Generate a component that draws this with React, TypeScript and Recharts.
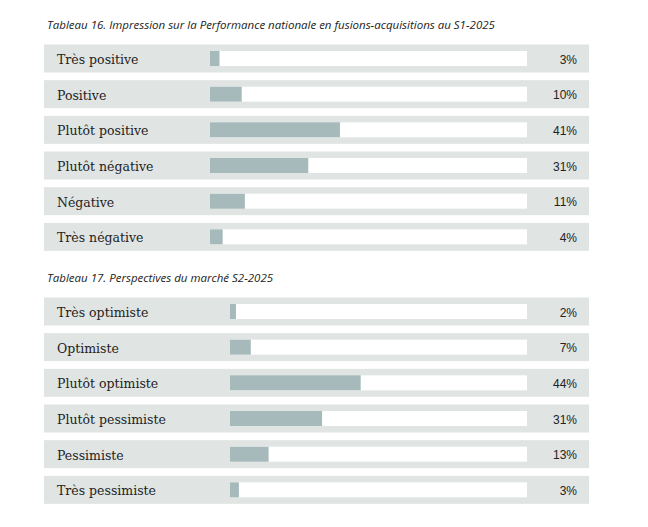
import React from "react";
import { BarChart, Bar, XAxis, YAxis, LabelList } from "recharts";

// Tableau 16
const impressionLabels = [
  "Très positive",
  "Positive",
  "Plutôt positive",
  "Plutôt négative",
  "Négative",
  "Très négative",
];
const impressionValues = [3, 10, 41, 31, 11, 4];

// Tableau 17
const perspectiveLabels = [
  "Très optimiste",
  "Optimiste",
  "Plutôt optimiste",
  "Plutôt pessimiste",
  "Pessimiste",
  "Très pessimiste",
];
const perspectiveValues = [2, 7, 44, 31, 13, 3];

const TITLE_16 =
  "Tableau 16. Impression sur la Performance nationale en fusions-acquisitions au S1-2025";
const TITLE_17 = "Tableau 17. Perspectives du marché S2-2025";

const BAND_COLOR = "#e0e4e3";
const BAR_COLOR = "#a6babb";
const TRACK_COLOR = "#ffffff";
const BAND_LEFT = 44;
const BAND_RIGHT = 589;
const BAND_HEIGHT = 28;
const LABEL_X = 57;
const VALUE_X = 577;

const LABEL_FONT = "'DejaVu Serif', serif";
const VALUE_FONT = "'Liberation Sans', Arial, sans-serif";
const TITLE_FONT = "'Open Sans', sans-serif";

const toRows = (labels: string[], values: number[]) =>
  labels.map((label, i) => ({ label, value: values[i] }));

// band + white track, drawn under each bar
const BandBackground = (props: any) => {
  const { x, y, width, height } = props;
  const cy = y + height / 2;
  return (
    <g>
      <rect
        x={BAND_LEFT}
        y={cy - BAND_HEIGHT / 2}
        width={BAND_RIGHT - BAND_LEFT}
        height={BAND_HEIGHT}
        fill={BAND_COLOR}
      />
      <rect x={x} y={y} width={width} height={height} fill={TRACK_COLOR} />
    </g>
  );
};

const CategoryLabel = (props: any) => {
  const { y, height, value } = props;
  return (
    <text
      x={LABEL_X}
      y={y + height / 2 + 5.5}
      fontFamily={LABEL_FONT}
      fontSize={12.5}
      fill="#222"
    >
      {value}
    </text>
  );
};

const PercentLabel = (props: any) => {
  const { y, height, value } = props;
  return (
    <text
      x={VALUE_X}
      y={y + height / 2 + 5}
      textAnchor="end"
      fontFamily={VALUE_FONT}
      fontSize={12}
      fill="#222"
    >
      {value}%
    </text>
  );
};

const Table = ({
  rows,
  height,
  marginTop,
  marginLeft,
}: {
  rows: { label: string; value: number }[];
  height: number;
  marginTop: number;
  marginLeft: number;
}) => (
  <BarChart
    width={648}
    height={height}
    data={rows}
    layout="vertical"
    margin={{ top: marginTop, right: 648 - 527, left: marginLeft, bottom: 0 }}
  >
    <XAxis type="number" domain={[0, 100]} hide />
    <YAxis type="category" dataKey="label" hide />
    <Bar
      dataKey="value"
      fill={BAR_COLOR}
      barSize={15}
      background={<BandBackground />}
      isAnimationActive={false}
    >
      <LabelList dataKey="label" content={<CategoryLabel />} />
      <LabelList dataKey="value" content={<PercentLabel />} />
    </Bar>
  </BarChart>
);

export default function App() {
  return (
    <div
      style={{
        position: "absolute",
        left: 0,
        top: 0,
        width: 648,
        height: 527,
        background: "#fff",
      }}
    >
      <svg width={648} height={527} style={{ position: "absolute", left: 0, top: 0 }}>
        <text x={47} y={28.5} fontFamily={TITLE_FONT} fontStyle="italic" fontSize={11.5} fill="#222">
          {TITLE_16}
        </text>
        <text x={47} y={282} fontFamily={TITLE_FONT} fontStyle="italic" fontSize={11.5} fill="#222">
          {TITLE_17}
        </text>
      </svg>
      <div style={{ position: "absolute", left: 0, top: 0 }}>
        <Table rows={toRows(impressionLabels, impressionValues)} height={255} marginTop={41} marginLeft={210} />
      </div>
      <div style={{ position: "absolute", left: 0, top: 260 }}>
        <Table rows={toRows(perspectiveLabels, perspectiveValues)} height={248} marginTop={34} marginLeft={230} />
      </div>
    </div>
  );
}
